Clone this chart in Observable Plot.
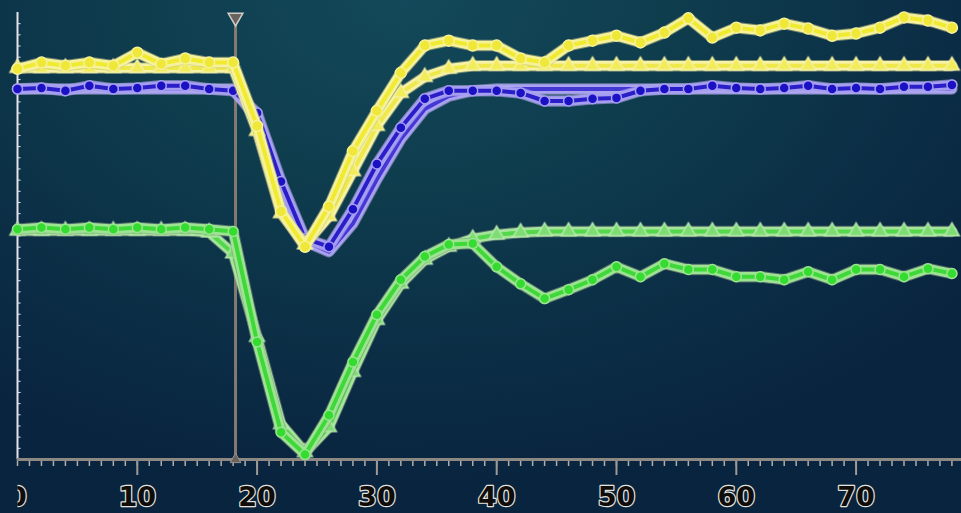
<!DOCTYPE html>
<html>
<head>
<meta charset="utf-8">
<script src="https://cdn.jsdelivr.net/npm/d3@7"></script>
<script src="https://cdn.jsdelivr.net/npm/@observablehq/plot@0.6"></script>
<style>
  html, body { margin: 0; padding: 0; width: 961px; height: 513px; overflow: hidden; }
  body { background: radial-gradient(ellipse 75% 95% at 42% 0%, #13495a 0%, #0e3c4d 40%, #0b2d45 75%, #09243f 100%); }
  #chart svg { display: block; }
  #chart svg g[aria-label="line"], #chart svg g[aria-label="dot"] { filter: blur(0.7px); }
  #chart svg g[aria-label="rule"], #chart svg g[aria-label="tick"] { filter: blur(0.4px); }
</style>
</head>
<body>
<div id="chart"></div>
<script>
// ---- data (arbitrary signal units, 0–100) ----
const time = [0,2,4,6,8,10,12,14,16,18,20,22,24,26,28,30,32,34,36,38,40,42,44,46,48,50,52,54,56,58,60,62,64,66,68,70,72,74,76,78];

const yellowMeasured = [87.4,88.8,88.1,88.8,88.1,91.0,88.5,89.7,88.8,88.8,74.6,55.5,47.6,56.6,69.0,78.0,86.5,92.6,93.7,92.6,92.6,89.7,88.8,92.6,93.7,94.8,93.3,95.5,98.7,94.4,96.6,96.0,97.5,96.4,94.8,95.3,96.6,98.9,98.2,96.6];
const yellowFit      = [87.6,87.6,87.6,87.6,87.6,87.6,87.6,87.6,87.6,87.6,73.5,55.1,48.1,54.4,64.5,74.6,82.0,85.6,87.4,88.1,88.1,88.1,88.1,88.1,88.1,88.1,88.1,88.1,88.1,88.1,88.1,88.1,88.1,88.1,88.1,88.1,88.1,88.1,88.1,88.1];

const blueMeasured = [82.9,83.1,82.5,83.6,82.9,83.1,83.6,83.6,82.9,82.5,77.5,62.2,49.4,47.6,56.0,66.1,74.2,80.7,82.5,82.5,82.5,82.0,80.2,80.2,80.7,80.9,82.5,82.9,82.9,83.6,83.1,82.9,83.1,83.6,82.9,83.1,82.9,83.4,83.4,83.8];
const blueFit      = [82.9,82.9,82.9,82.9,82.9,82.9,82.9,82.9,82.9,82.9,76.2,60.4,48.8,46.5,52.8,62.7,71.7,78.4,81.3,82.5,82.9,82.9,82.9,82.9,82.9,82.9,82.9,82.9,82.9,82.9,82.9,82.9,82.9,82.9,82.9,82.9,82.9,82.9,82.9,82.9];

const greenMeasured = [51.5,51.9,51.5,51.9,51.5,51.9,51.5,51.9,51.5,51.0,26.3,6.1,1.1,9.9,21.8,32.4,40.2,45.4,48.1,48.3,43.1,39.3,36.0,38.0,40.2,43.1,40.9,43.8,42.5,42.5,40.9,40.9,40.2,42.0,40.2,42.5,42.5,40.9,42.7,41.6];
const greenFit      = [51.2,51.2,51.2,51.2,51.2,51.2,51.2,51.2,50.8,46.1,27.4,7.9,1.6,7.2,19.6,31.2,39.3,44.7,47.6,49.4,50.3,50.8,51.0,51.0,51.0,51.0,51.0,51.0,51.0,51.0,51.0,51.0,51.0,51.0,51.0,51.0,51.0,51.0,51.0,51.0];

const xTickLabels = [0,10,20,30,40,50,60,70];
const cursorTime = 18.2;
const cursorTop = 98.9;

// ---- build tables ----
const rows = arr => time.map((t, i) => ({t, v: arr[i]}));

function seriesMarks(arr, {edge, halo, core, dotFill, dotStroke, symbol, r}) {
  const data = rows(arr);
  return [
    Plot.line(data, {x: "t", y: "v", stroke: edge, strokeWidth: 11.5, strokeOpacity: 0.55}),
    Plot.line(data, {x: "t", y: "v", stroke: halo, strokeWidth: 9.5}),
    Plot.line(data, {x: "t", y: "v", stroke: core, strokeWidth: 4}),
    Plot.dot(data, {x: "t", y: "v", symbol, r, fill: dotFill, stroke: dotStroke, strokeWidth: 1.5})
  ];
}

const minorTicks = d3.range(0, 79, 1);
const yTicks = d3.range(0, 100, 2.5);

const plot = Plot.plot({
  width: 961,
  height: 513,
  marginLeft: 17,
  marginRight: 0,
  marginTop: 12,
  marginBottom: 54,
  x: {domain: [0, 78.8], axis: null},
  y: {domain: [0, 100], axis: null},
  style: {background: "transparent", overflow: "visible"},
  marks: [
    // y axis line + small ticks
    Plot.ruleX([0], {stroke: "#e4e2ec", strokeWidth: 2}),
    Plot.ruleY(yTicks, {x1: 0, x2: 0.3, stroke: "#e4e2ec", strokeWidth: 1}),
    // x axis
    Plot.axisX({ticks: minorTicks, tickSize: 7, text: null, label: null, stroke: "#b0aca6", strokeWidth: 1.5}),
    Plot.axisX({ticks: xTickLabels.slice(1), tickSize: 16, text: null, label: null, stroke: "#a09a94", strokeWidth: 2}),
    Plot.ruleY([0], {stroke: "#8e8882", strokeWidth: 3}),
    Plot.text(xTickLabels, {
      x: d => d, text: d => String(d), frameAnchor: "bottom", dy: 38,
      fontSize: 27, fontWeight: "bold", fontFamily: "DejaVu Sans, Verdana, sans-serif",
      fill: "#0e0d0c", stroke: "#e6e3dc", strokeWidth: 2.4, paintOrder: "stroke",
      textAnchor: "middle", lineAnchor: "middle"
    }),
    // cursor
    Plot.ruleX([cursorTime], {y1: 0, y2: cursorTop, stroke: "#857970", strokeWidth: 3}),
    // series
    ...seriesMarks(greenFit,      {edge: "#8d9a86", halo: "#a6e49c", core: "#52d84a", dotFill: "#7ddc72", dotStroke: "#b8e8ae", symbol: "triangle", r: 5.5}),
    ...seriesMarks(greenMeasured, {edge: "#8d9a86", halo: "#9ce492", core: "#3ed838", dotFill: "#34dc30", dotStroke: "#9ce492", symbol: "circle", r: 5}),
    ...seriesMarks(blueFit,       {edge: "#b8b0ee", halo: "#aaa2f0", core: "#4438d4", dotFill: "#3a2ed0", dotStroke: "#aaa2f0", symbol: "circle", r: 0}),
    ...seriesMarks(blueMeasured,  {edge: "#b8b0ee", halo: "#a69ef0", core: "#2a1ec8", dotFill: "#1a10c4", dotStroke: "#a69ef0", symbol: "circle", r: 5}),
    ...seriesMarks(yellowFit,     {edge: "#c8c48a", halo: "#f6f2a6", core: "#efe84a", dotFill: "#f2ec5a", dotStroke: "#f6f2a6", symbol: "triangle", r: 5.5}),
    ...seriesMarks(yellowMeasured,{edge: "#c8c48a", halo: "#f6f29a", core: "#f0ea30", dotFill: "#f0e838", dotStroke: "#f6f29a", symbol: "circle", r: 5.5}),
    // cursor head
    Plot.dot([cursorTime], {x: d => d, y: () => cursorTop, symbol: "triangle", rotate: 180, r: 5.5, fill: "#6a625c", stroke: "#d0ccc8", strokeWidth: 1.5}),
    Plot.dot([cursorTime], {x: d => d, y: () => 0, symbol: "triangle", r: 4, fill: "#6a625c", stroke: "#9a948e", strokeWidth: 1})
  ]
});

// clip the tick labels at the y axis (like the original cropped "0")
const svg = d3.select(plot);
const defs = svg.insert("defs", ":first-child");
defs.append("clipPath").attr("id", "labelClip")
  .append("rect").attr("x", 17).attr("y", 0).attr("width", 944).attr("height", 513);
svg.selectAll("g[aria-label='text']").attr("clip-path", "url(#labelClip)");

document.getElementById("chart").appendChild(plot);
</script>
</body>
</html>
